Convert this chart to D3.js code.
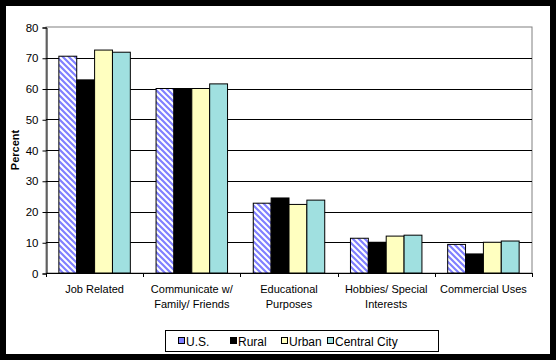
<!DOCTYPE html>
<html>
<head>
<meta charset="utf-8">
<script src="https://cdn.jsdelivr.net/npm/d3@7"></script>
<style>
    body { margin: 0; background: #000; }
    svg { display: block; font-family: "Liberation Sans", Arial, sans-serif; }
</style>
</head>
<body>
<script>
    const categories = ["Job Related", "Communicate w/ Family/ Friends", "Educational Purposes", "Hobbies/ Special Interests", "Commercial Uses"];
    const categoryLines = [["Job Related"], ["Communicate w/", "Family/ Friends"], ["Educational", "Purposes"], ["Hobbies/ Special", "Interests"], ["Commercial Uses"]];
    const seriesNames = ["U.S.", "Rural", "Urban", "Central City"];
    const usValues = [70.5, 60, 22.7, 11.3, 9.3];
    const ruralValues = [62.8, 60, 24.4, 10, 6.2];
    const urbanValues = [72.5, 60, 22.3, 12, 10];
    const centralValues = [71.8, 61.5, 23.7, 12.3, 10.4];
    const yTicks = [0, 10, 20, 30, 40, 50, 60, 70, 80];

    const width = 556;
    const height = 360;
    const plotLeft = 46;
    const plotRight = 532;
    const plotTop = 27;
    const plotBottom = 273;

    const allValues = [usValues, ruralValues, urbanValues, centralValues];
    const fills = ["url(#hatch)", "#000000", "#ffffc0", "#a0e0e0"];

    const svg = d3.select("body")
        .append("svg")
        .attr("width", width)
        .attr("height", height);

    const defs = svg.append("defs");
    const pattern = defs.append("pattern")
        .attr("id", "hatch")
        .attr("patternUnits", "userSpaceOnUse")
        .attr("width", 6)
        .attr("height", 6);
    pattern.append("rect").attr("width", 6).attr("height", 6).attr("fill", "#ffffff");
    pattern.append("path")
        .attr("d", "M-3,3 L3,9 M0,0 L6,6 M3,-3 L9,3")
        .attr("stroke", "#8080ff")
        .attr("stroke-width", 2.2);

    // white chart area inside black frame
    svg.append("rect")
        .attr("x", 6).attr("y", 6)
        .attr("width", 544).attr("height", 348)
        .attr("fill", "#ffffff");

    const xScale = d3.scaleBand()
        .domain(categories)
        .range([plotLeft, plotRight]);

    const inner = d3.scaleBand()
        .domain(seriesNames)
        .range([0, xScale.bandwidth()])
        .paddingOuter(0.72)
        .paddingInner(0);

    const yScale = d3.scaleLinear()
        .domain([0, 80])
        .range([plotBottom, plotTop]);

    // plot area border
    svg.append("rect")
        .attr("x", plotLeft).attr("y", plotTop)
        .attr("width", plotRight - plotLeft).attr("height", plotBottom - plotTop)
        .attr("fill", "none")
        .attr("stroke", "#808080");

    // gridlines
    svg.append("g")
        .selectAll("line")
        .data(yTicks.filter(d => d > 0 && d < 80))
        .enter()
        .append("line")
        .attr("x1", plotLeft).attr("x2", plotRight)
        .attr("y1", d => Math.round(yScale(d)) + 0.5)
        .attr("y2", d => Math.round(yScale(d)) + 0.5)
        .attr("stroke", "#000");

    // bars
    seriesNames.forEach((name, i) => {
        svg.append("g")
            .selectAll("rect")
            .data(allValues[i])
            .enter()
            .append("rect")
            .attr("x", (d, j) => xScale(categories[j]) + inner(name))
            .attr("y", d => yScale(d))
            .attr("width", inner.bandwidth())
            .attr("height", d => plotBottom - yScale(d))
            .attr("fill", fills[i])
            .attr("stroke", "#000")
            .attr("stroke-width", 1);
    });

    const yAxis = d3.axisLeft(yScale)
        .tickValues(yTicks)
        .tickSize(4)
        .tickPadding(4)
        .tickFormat(d => d);

    svg.append("g")
        .attr("transform", `translate(${plotLeft + 0.5}, 0.5)`)
        .call(yAxis)
        .call(g => g.select(".domain").attr("stroke", "#000"))
        .call(g => g.selectAll("text").style("font-size", "11.5px").attr("fill", "#000"));

    const xAxis = d3.axisBottom(xScale)
        .tickSize(0)
        .tickFormat("");

    const xg = svg.append("g")
        .attr("transform", `translate(0.5, ${plotBottom + 0.5})`)
        .call(xAxis);
    xg.select(".domain").attr("d", `M${plotLeft},0H${plotRight}`).attr("stroke", "#000");

    svg.append("g")
        .selectAll("line")
        .data(d3.range(categories.length + 1))
        .enter()
        .append("line")
        .attr("x1", d => Math.round(plotLeft + d * xScale.step()) + 0.5)
        .attr("x2", d => Math.round(plotLeft + d * xScale.step()) + 0.5)
        .attr("y1", plotBottom)
        .attr("y2", plotBottom + 4)
        .attr("stroke", "#000");

    const labels = svg.append("g")
        .selectAll("text")
        .data(categories)
        .enter()
        .append("text")
        .attr("x", d => xScale(d) + xScale.bandwidth() / 2)
        .attr("y", 293)
        .attr("text-anchor", "middle")
        .style("font-size", "11px");
    labels.each(function (d, i) {
        const t = d3.select(this);
        categoryLines[i].forEach((line, k) => {
            t.append("tspan")
                .attr("x", xScale(d) + xScale.bandwidth() / 2)
                .attr("dy", k === 0 ? 0 : 14.5)
                .text(line);
        });
    });

    svg.append("text")
        .attr("transform", "rotate(-90)")
        .attr("x", -(plotTop + plotBottom) / 2)
        .attr("y", 19)
        .attr("text-anchor", "middle")
        .style("font-size", "11px")
        .style("font-weight", "bold")
        .text("Percent");

    // legend
    const legend = svg.append("g");
    legend.append("rect")
        .attr("x", 165.5).attr("y", 330.5)
        .attr("width", 273).attr("height", 21)
        .attr("fill", "#fff")
        .attr("stroke", "#000");

    const legendX = [178, 230, 281, 327];
    seriesNames.forEach((name, i) => {
        legend.append("rect")
            .attr("x", legendX[i] + 0.5).attr("y", 337.5)
            .attr("width", 6).attr("height", 6)
            .attr("fill", i === 0 ? "#8080ff" : fills[i])
            .attr("stroke", "#000");
        legend.append("text")
            .attr("x", legendX[i] + 8)
            .attr("y", 345.5)
            .style("font-size", "12px")
            .text(name);
    });
</script>
</body>
</html>
